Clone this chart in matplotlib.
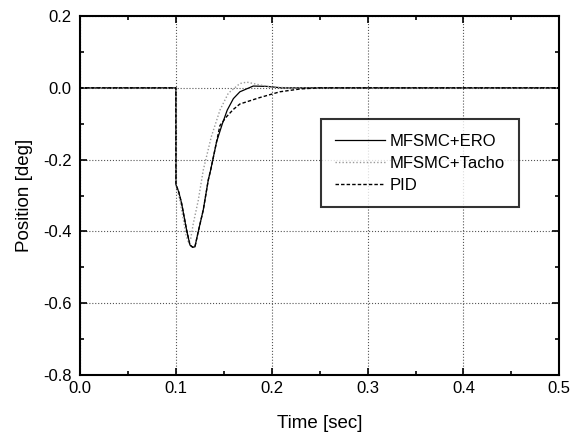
import numpy as np
import matplotlib.pyplot as plt
from matplotlib.ticker import MultipleLocator

plt.rcParams['font.family'] = ['Liberation Sans', 'DejaVu Sans']

# MFSMC+ERO response
t_ero = [0.0, 0.1, 0.1001, 0.103, 0.106, 0.1112, 0.1147, 0.1175, 0.1199, 0.1234,
         0.1286, 0.1338, 0.1363, 0.1425, 0.1485, 0.1536, 0.160, 0.1668, 0.1807,
         0.195, 0.21, 0.5]
y_ero = [0.0, 0.0, -0.27, -0.29, -0.322, -0.396, -0.438, -0.444, -0.443, -0.40,
         -0.34, -0.257, -0.229, -0.150, -0.10, -0.062, -0.03, -0.011, 0.005,
         0.004, 0.0, 0.0]

# MFSMC+Tacho response
t_tacho = [0.0, 0.1, 0.1001, 0.104, 0.108, 0.111, 0.1135, 0.1155, 0.1182, 0.1234,
           0.1286, 0.137, 0.146, 0.1547, 0.1668, 0.174, 0.1877, 0.2, 0.22, 0.5]
y_tacho = [0.0, 0.0, -0.27, -0.31, -0.37, -0.415, -0.432, -0.42, -0.378, -0.313,
           -0.229, -0.136, -0.062, -0.015, 0.012, 0.016, 0.008, 0.002, 0.0, 0.0]

# PID response
t_pid = [0.0, 0.1, 0.1001, 0.103, 0.106, 0.1112, 0.1147, 0.1175, 0.1199, 0.1234,
         0.1286, 0.1338, 0.1363, 0.1425, 0.146, 0.153, 0.160, 0.1668, 0.1877,
         0.2085, 0.23, 0.25, 0.5]
y_pid = [0.0, 0.0, -0.27, -0.29, -0.322, -0.396, -0.438, -0.444, -0.443, -0.40,
         -0.34, -0.257, -0.229, -0.150, -0.105, -0.08, -0.06, -0.045, -0.027,
         -0.011, -0.003, 0.0, 0.0]

fig = plt.figure(figsize=(5.86, 4.34), dpi=100)
ax = fig.add_axes([0.1365, 0.136, 0.818, 0.827])

ax.plot(t_ero, y_ero, color='black', lw=0.9, label='MFSMC+ERO')
ax.plot(t_tacho, y_tacho, color='#999999', lw=1.0, ls=(0, (1, 1.5)), label='MFSMC+Tacho')
ax.plot(t_pid, y_pid, color='black', lw=1.0, ls=(0, (2.5, 1.5)), label='PID')

ax.set_xlim(0, 0.5)
ax.set_ylim(-0.8, 0.2)
ax.xaxis.set_major_locator(MultipleLocator(0.1))
ax.xaxis.set_minor_locator(MultipleLocator(0.05))
ax.yaxis.set_major_locator(MultipleLocator(0.2))
ax.yaxis.set_minor_locator(MultipleLocator(0.1))
ax.xaxis.set_major_formatter(plt.FormatStrFormatter('%.1f'))
ax.yaxis.set_major_formatter(plt.FormatStrFormatter('%.1f'))
ax.tick_params(which='both', direction='in', top=True, right=True, width=1.2)
ax.tick_params(which='major', length=5, labelsize=12)
ax.tick_params(axis='y', which='major', pad=6)
ax.tick_params(axis='x', which='major', pad=4)
ax.tick_params(which='minor', length=3)
for s in ax.spines.values():
    s.set_linewidth(1.5)

ax.grid(True, which='major', ls=':', color='#555555', lw=0.8)

ax.set_xlabel('Time [sec]', fontsize=13.5, labelpad=14)
ax.set_ylabel('Position [deg]', fontsize=13.5, labelpad=7)

leg = ax.legend(loc='lower left', bbox_to_anchor=(0.502, 0.467), fontsize=12,
                handlelength=3.0, handletextpad=0.3, frameon=True, fancybox=False,
                borderaxespad=0, borderpad=0.85, labelspacing=0.44)
leg.get_frame().set_edgecolor('black')
leg.get_frame().set_linewidth(1.5)

fig.savefig('out.png', dpi=100)
